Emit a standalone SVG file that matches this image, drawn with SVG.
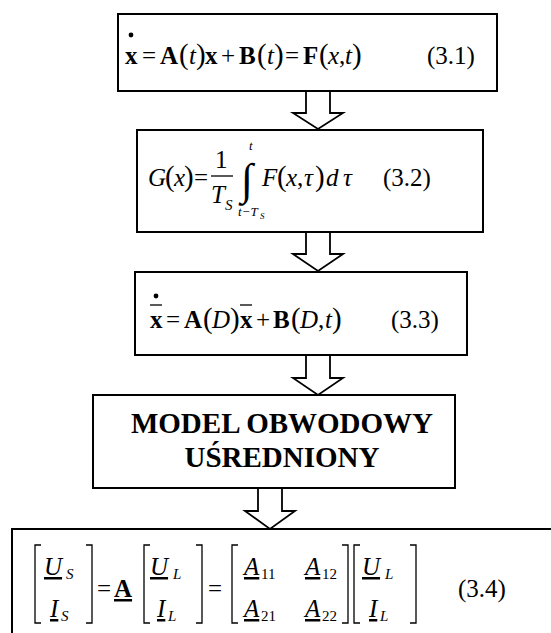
<svg xmlns="http://www.w3.org/2000/svg" width="551" height="633" viewBox="0 0 551 633">
<style>
.box{fill:#fff;stroke:#000;stroke-width:2}
.arr{fill:#fff;stroke:#000;stroke-width:1.8;stroke-linejoin:miter}
text{font-family:"Liberation Serif","Times New Roman",serif;fill:#000}
.m{font-size:25px}
.q{font-size:25px}
.b{font-weight:bold}
.i{font-style:italic}
.p{font-size:29px}
.s{font-size:15px;font-style:italic}
.n{font-size:15px}
.h{font-size:29px;font-weight:bold}
.ln{stroke:#000;stroke-width:1.3;fill:none}
.br{stroke:#000;stroke-width:1.3;fill:none}
</style>
<rect width="551" height="633" fill="#fff"/>
<g id="connectors">
<path class="arr" d="M306 91V113H293L318 129L343 113H330V91"/>
<path class="arr" d="M306 232V254H293L318 271L343 254H330V232"/>
<path class="arr" d="M306 355V378H293L318 395L343 378H330V355"/>
<path class="arr" d="M258 488V511H245L270 529L295 511H282V488"/>
</g>
<g id="node1">
<rect class="box" x="118" y="14" width="379" height="77"/>
<circle cx="131" cy="35" r="2.4"/>
<text class="m" y="64"><tspan class="b" x="125">x</tspan><tspan x="142">=</tspan><tspan class="b" x="160">A</tspan><tspan class="p" x="179">(</tspan><tspan class="i" x="189">t</tspan><tspan class="p" x="196">)</tspan><tspan class="b" x="205">x</tspan><tspan x="221">+</tspan><tspan class="b" x="239">B</tspan><tspan class="p" x="257">(</tspan><tspan class="i" x="267">t</tspan><tspan class="p" x="274">)</tspan><tspan x="285">=</tspan><tspan class="b" x="303">F</tspan><tspan class="p" x="319">(</tspan><tspan class="i" x="328">x</tspan><tspan x="339">,</tspan><tspan class="i" x="345">t</tspan><tspan class="p" x="352">)</tspan></text>
<text class="q" x="427" y="64">(3.1)</text>
</g>
<g id="node2">
<rect class="box" x="137" y="130" width="346" height="102"/>
<text class="m" y="186"><tspan class="i" x="148">G</tspan><tspan class="p" x="165">(</tspan><tspan class="i" x="174">x</tspan><tspan class="p" x="184">)</tspan><tspan x="194">=</tspan></text>
<text class="m" x="215" y="168">1</text>
<line class="ln" x1="211" y1="176" x2="233" y2="176"/>
<text class="m i" x="211" y="203">T</text>
<text class="s" x="225" y="210">S</text>
<text class="i" x="249" y="150" font-size="13">t</text>
<text x="241" y="194" font-size="44px">∫</text>
<text class="i" x="238" y="216" font-size="13">t−T</text>
<text class="i" x="260" y="219" font-size="9">S</text>
<text class="m" y="186"><tspan class="i" x="262">F</tspan><tspan class="p" x="277">(</tspan><tspan class="i" x="286">x</tspan><tspan x="297">,</tspan><tspan class="i" x="304">τ</tspan><tspan class="p" x="315">)</tspan><tspan class="i" x="326">d</tspan><tspan class="i" x="343">τ</tspan></text>
<text class="q" x="383" y="186">(3.2)</text>
</g>
<g id="node3">
<rect class="box" x="135" y="272" width="332" height="83"/>
<circle cx="156" cy="296" r="2.4"/>
<line class="ln" x1="150" y1="305" x2="162" y2="305"/>
<line class="ln" x1="240" y1="305" x2="252" y2="305"/>
<text class="m" y="328"><tspan class="b" x="150">x</tspan><tspan x="166">=</tspan><tspan class="b" x="184">A</tspan><tspan class="p" x="203">(</tspan><tspan class="i" x="212">D</tspan><tspan class="p" x="230">)</tspan><tspan class="b" x="240">x</tspan><tspan x="256">+</tspan><tspan class="b" x="273">B</tspan><tspan class="p" x="291">(</tspan><tspan class="i" x="300">D</tspan><tspan x="318">,</tspan><tspan class="i" x="325">t</tspan><tspan class="p" x="332">)</tspan></text>
<text class="q" x="391" y="328">(3.3)</text>
</g>
<g id="node4">
<rect class="box" x="93" y="395" width="362" height="93"/>
<text class="h" x="282" y="433" text-anchor="middle">MODEL OBWODOWY</text>
<text class="h" x="282" y="467" text-anchor="middle">UŚREDNIONY</text>
</g>
<g id="node5">
<path class="box" d="M12 633V529H551" fill="none"/>
<path class="br" d="M41 545H35V623H41M86 545H92V623H86"/>
<path class="br" d="M150 545H144V623H150M196 545H202V623H196"/>
<path class="br" d="M238 545H232V623H238M342 545H348V623H342"/>
<path class="br" d="M360 545H354V623H360M410 545H416V623H410"/>
<text class="m" x="44" y="575"><tspan class="i" text-decoration="underline">U</tspan></text>
<text class="s" x="66" y="579">S</text>
<text class="m" x="50" y="617"><tspan class="i" text-decoration="underline">I</tspan></text>
<text class="s" x="61" y="621">S</text>
<text class="m" x="97" y="597">=</text>
<text class="m b" x="114" y="597" text-decoration="underline">A</text>
<text class="m" x="150" y="575"><tspan class="i" text-decoration="underline">U</tspan></text>
<text class="s" x="173" y="579">L</text>
<text class="m" x="157" y="617"><tspan class="i" text-decoration="underline">I</tspan></text>
<text class="s" x="168" y="621">L</text>
<text class="m" x="208" y="597">=</text>
<text class="m" x="244" y="575"><tspan class="i" text-decoration="underline">A</tspan></text>
<text class="n" x="261" y="579">11</text>
<text class="m" x="305" y="575"><tspan class="i" text-decoration="underline">A</tspan></text>
<text class="n" x="322" y="579">12</text>
<text class="m" x="244" y="617"><tspan class="i" text-decoration="underline">A</tspan></text>
<text class="n" x="261" y="621">21</text>
<text class="m" x="305" y="617"><tspan class="i" text-decoration="underline">A</tspan></text>
<text class="n" x="322" y="621">22</text>
<text class="m" x="362" y="575"><tspan class="i" text-decoration="underline">U</tspan></text>
<text class="s" x="385" y="579">L</text>
<text class="m" x="369" y="617"><tspan class="i" text-decoration="underline">I</tspan></text>
<text class="s" x="380" y="621">L</text>
<text class="q" x="458" y="597">(3.4)</text>
</g>
</svg>
